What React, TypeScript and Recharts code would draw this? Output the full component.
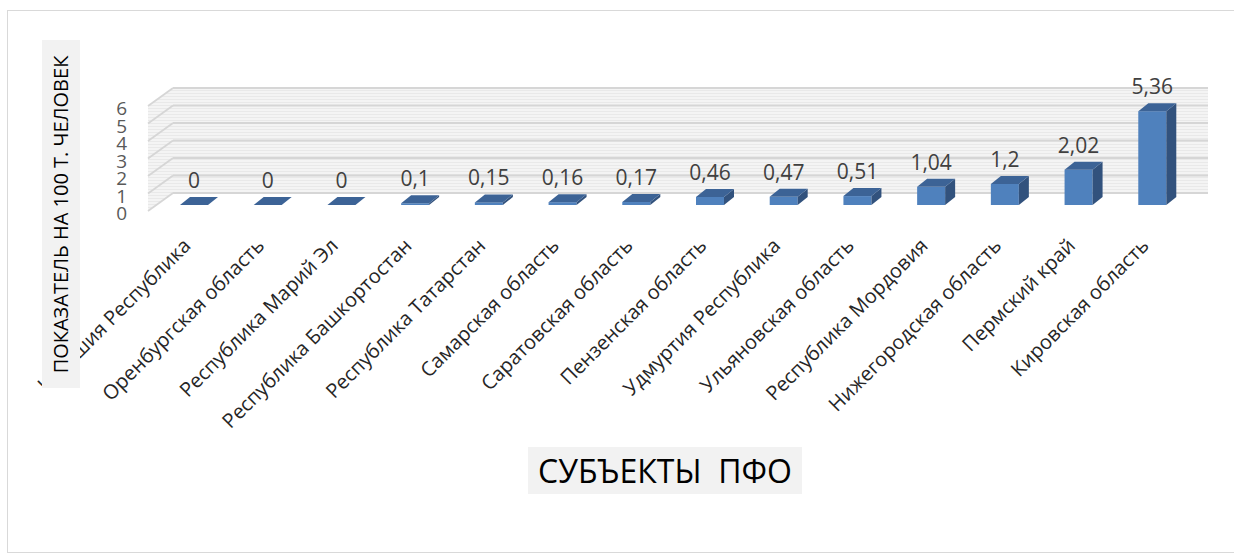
import React from 'react';
import { BarChart, Bar, XAxis, YAxis, ReferenceArea, LabelList } from 'recharts';

const REGIONS = [
  'Чувашия Республика',
  'Оренбургская область',
  'Республика Марий Эл',
  'Республика Башкортостан',
  'Республика Татарстан',
  'Самарская область',
  'Саратовская область',
  'Пензенская область',
  'Удмуртия Республика',
  'Ульяновская область',
  'Республика Мордовия',
  'Нижегородская область',
  'Пермский край',
  'Кировская область',
];
const VALUES = [0, 0, 0, 0.1, 0.15, 0.16, 0.17, 0.46, 0.47, 0.51, 1.04, 1.2, 2.02, 5.36];
const Y_TICKS = [0, 1, 2, 3, 4, 5, 6];
const Y_MAX = 6;

const data = REGIONS.map((name, i) => ({ name, value: VALUES[i] }));

const FONT = '"Open Sans", "Noto Sans", sans-serif';

// fake 3d offsets relative to the plane of the bar fronts
const BAR_DX = 10, BAR_DY = -8;
const BACK_DX = 16, BACK_DY = -12;
const FRONT_DX = -9, FRONT_DY = 6;

const fmt = (v: number) => String(v).replace('.', ',');

const Box3D = (props: any) => {
  const { x, y, width, height } = props;
  const b = y + height;
  return (
    <g>
      {height > 0 && (
        <>
          <rect x={x} y={y} width={width} height={height} fill="#4f81bd" />
          <polygon
            points={`${x + width},${y} ${x + width + BAR_DX},${y + BAR_DY} ${x + width + BAR_DX},${b + BAR_DY} ${x + width},${b}`}
            fill="#32527d"
          />
        </>
      )}
      <polygon
        points={`${x},${y} ${x + width},${y} ${x + width + BAR_DX},${y + BAR_DY} ${x + BAR_DX},${y + BAR_DY}`}
        fill="#3c6396"
      />
    </g>
  );
};

// side wall + back wall with their gridlines, drawn under the bars
const Walls = (props: any) => {
  const { x, y, width, height } = props;
  const b = y + height;
  const col = '#d6d6d6';
  return (
    <g>
      <defs>
        <pattern id="wallStripes" width="4" height="3" patternUnits="userSpaceOnUse">
          <rect width="4" height="3" fill="#f4f4f4" />
          <line x1="0" y1="0.5" x2="4" y2="0.5" stroke="#e9e9e9" strokeWidth={1} />
        </pattern>
      </defs>
      <polygon
        points={`${x + FRONT_DX},${b + FRONT_DY} ${x + BACK_DX},${b + BACK_DY} ${x + BACK_DX},${y + BACK_DY} ${x + FRONT_DX},${y + FRONT_DY}`}
        fill="url(#wallStripes)"
      />
      <rect x={x + BACK_DX} y={y + BACK_DY} width={width + 3} height={height} fill="url(#wallStripes)" />
      {Y_TICKS.map(t => {
        const ly = b - (height * t) / Y_MAX;
        return (
          <g key={t}>
            <line x1={x + FRONT_DX} y1={ly + FRONT_DY} x2={x + BACK_DX} y2={ly + BACK_DY} stroke={col} strokeWidth={1.8} />
            <line x1={x + BACK_DX} y1={ly + BACK_DY} x2={x + width + BACK_DX + 3} y2={ly + BACK_DY} stroke={col} strokeWidth={1.8} />
          </g>
        );
      })}
    </g>
  );
};

const YTick = (props: any) => {
  const { x, y, payload } = props;
  return (
    <text x={x - 30} y={y + FRONT_DY + 2} textAnchor="end" dominantBaseline="central"
      fill="#595959" fontSize={19} fontFamily={FONT}>
      {payload.value}
    </text>
  );
};

const XTick = (props: any) => {
  const { x, y, payload } = props;
  return (
    <text transform={`translate(${x - 2},${y + 42}) rotate(-45)`} textAnchor="end"
      fill="#262626" fontSize={20} fontFamily={FONT}>
      {payload.value}
    </text>
  );
};

const ValueLabel = (props: any) => {
  const { x, y, width, value } = props;
  return (
    <text x={x + width / 2} y={y - 25} textAnchor="middle" dominantBaseline="central"
      fill="#404040" fontSize={21} fontFamily={FONT}>
      {fmt(value)}
    </text>
  );
};

export default function App() {
  return (
    <div style={{ position: 'absolute', left: 0, top: 0, width: 1234, height: 559, background: '#fff', fontFamily: FONT, overflow: 'hidden' }}>
      <div style={{ position: 'absolute', left: 7, top: 10, width: 1240, height: 541, border: '1px solid #d9d9d9' }} />
      <BarChart width={1234} height={559} data={data}
        margin={{ top: 100, right: 45, bottom: 324, left: 117 }}>
        <ReferenceArea y1={0} y2={Y_MAX} shape={<Walls />} ifOverflow="visible" />
        <XAxis dataKey="name" interval={0} axisLine={false} tickLine={false}
          tickSize={0} tickMargin={0} height={30} tick={<XTick />} />
        <YAxis domain={[0, Y_MAX]} ticks={Y_TICKS} interval={0} axisLine={false} tickLine={false}
          tickSize={0} tickMargin={0} width={40} tick={<YTick />} />
        <Bar dataKey="value" barSize={28} shape={<Box3D />} isAnimationActive={false}>
          <LabelList dataKey="value" content={<ValueLabel />} />
        </Bar>
      </BarChart>
      <div style={{
        position: 'absolute', left: 42, top: 40, width: 38, height: 348, background: '#f2f2f2',
        display: 'flex', alignItems: 'center', justifyContent: 'center',
      }}>
        <div style={{ transform: 'rotate(-90deg)', whiteSpace: 'nowrap', fontSize: 20, color: '#000' }}>
          ПОКАЗАТЕЛЬ НА 100 Т. ЧЕЛОВЕК
        </div>
      </div>
      <div style={{
        position: 'absolute', left: 528, top: 447, width: 274, height: 47, background: '#f2f2f2',
        display: 'flex', alignItems: 'center', justifyContent: 'center',
        fontSize: 32, color: '#000', whiteSpace: 'pre',
      }}>
        СУБЪЕКТЫ  ПФО
      </div>
    </div>
  );
}
